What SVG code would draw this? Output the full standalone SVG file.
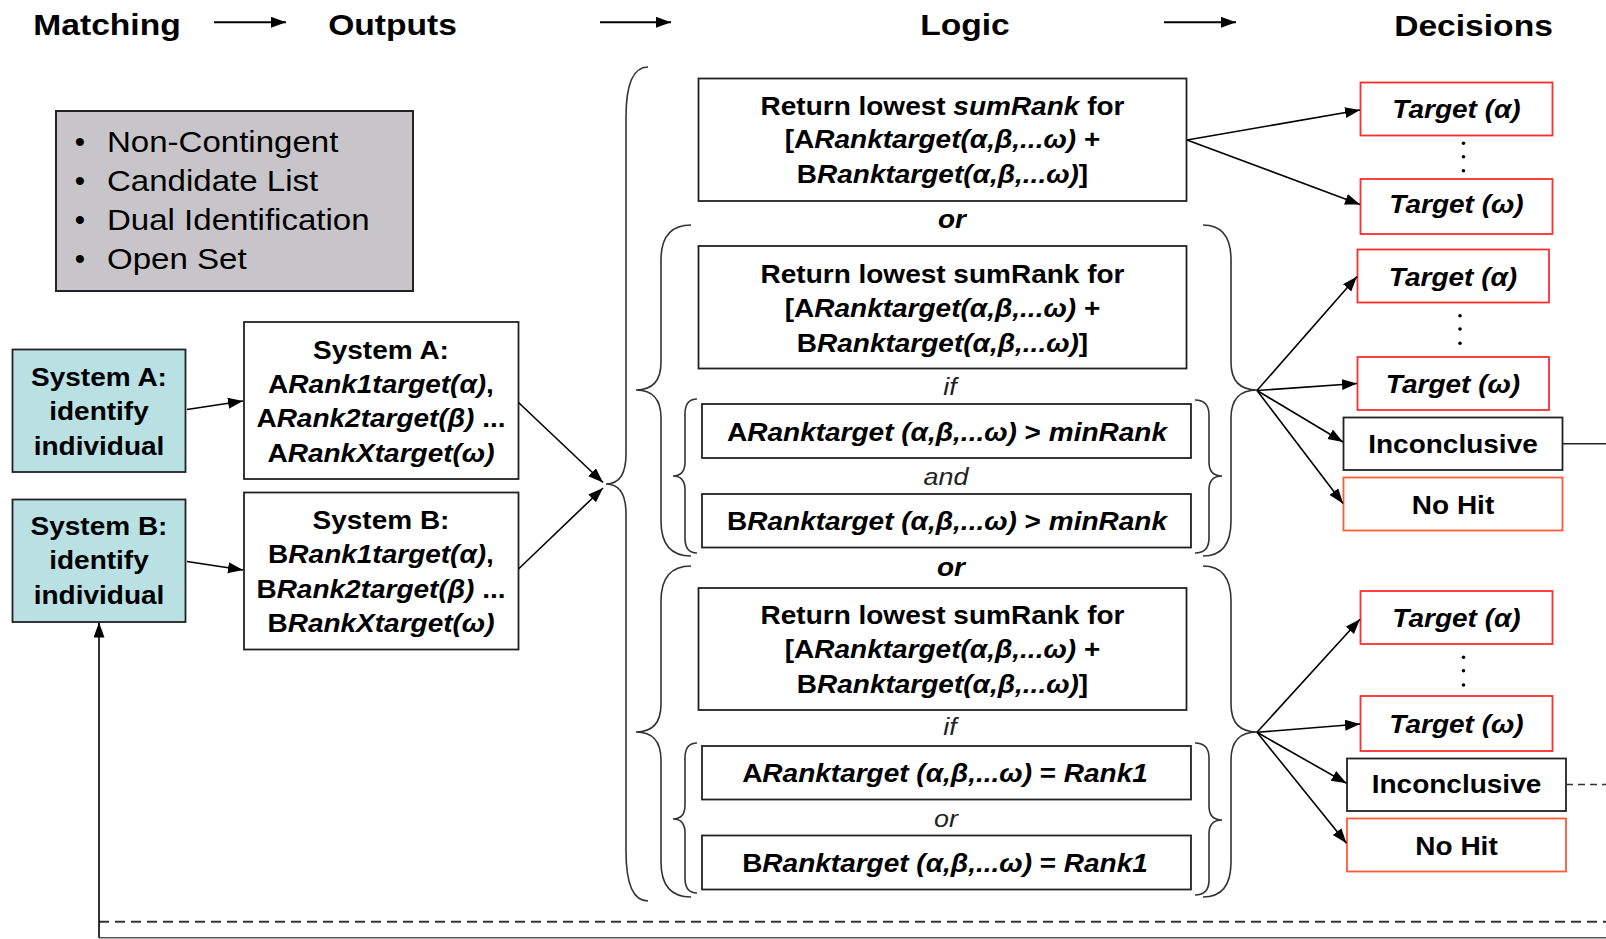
<svg xmlns="http://www.w3.org/2000/svg" width="1606" height="939" viewBox="0 0 1606 939">
<defs>
<marker id="ah" markerUnits="userSpaceOnUse" markerWidth="16" markerHeight="12" refX="15" refY="5.5" orient="auto"><path d="M0,0 L15,5.5 L0,11 Z" fill="#000"/></marker>
<style>
text{font-family:"Liberation Sans",Arial,Helvetica,sans-serif;fill:#000}
.hd{font-size:30px;font-weight:bold;text-anchor:middle}
.b{font-size:25px;font-weight:bold;text-anchor:middle}
.i{font-style:italic}
.li{font-size:29.5px}
.bu{font-size:29.5px;text-anchor:middle}
.lt{font-size:24px;font-style:italic;text-anchor:middle;fill:#222}
.box{fill:#fff;stroke:#222;stroke-width:1.8}
.red{fill:#fff;stroke:#ff2d2d;stroke-width:1.8}
.org{fill:#fff;stroke:#ff5a36;stroke-width:1.8}
.cy{fill:#b9e1e4;stroke:#222;stroke-width:1.8}
.gr{fill:#c7c5c9;stroke:#222;stroke-width:2}
.br{fill:none;stroke:#333;stroke-width:1.6}
.ln{fill:none;stroke:#000;stroke-width:1.6}
.hl{fill:none;stroke:#000;stroke-width:2}
</style>
</defs>
<rect width="1606" height="939" fill="#fff"/>

<g id="headers">
<g transform="translate(107 0) scale(1.12 1)"><text class="hd" y="35.5">Matching</text></g>
<g transform="translate(392.5 0) scale(1.12 1)"><text class="hd" y="35.5">Outputs</text></g>
<g transform="translate(965 0) scale(1.12 1)"><text class="hd" y="35.5">Logic</text></g>
<g transform="translate(1473.5 0) scale(1.12 1)"><text class="hd" y="36">Decisions</text></g>
</g>

<g id="legend">
<rect class="gr" x="56" y="111" width="357" height="180"/>
<text class="bu" x="80" y="151.7">•</text>
<text class="bu" x="80" y="190.7">•</text>
<text class="bu" x="80" y="230">•</text>
<text class="bu" x="80" y="269.3">•</text>
<g transform="translate(107 0) scale(1.12 1)">
<text class="li" y="151.7">Non-Contingent</text>
<text class="li" y="190.7">Candidate List</text>
<text class="li" y="230">Dual Identification</text>
<text class="li" y="269.3">Open Set</text>
</g>
</g>

<g id="identA">
<rect class="cy" x="12.5" y="349.5" width="173" height="122.5"/>
<g transform="translate(99 0) scale(1.12 1)">
<text class="b" y="386">System A:</text>
<text class="b" y="420">identify</text>
<text class="b" y="455">individual</text>
</g>
</g>
<g id="identB">
<rect class="cy" x="12.5" y="499.5" width="173" height="122.5"/>
<g transform="translate(99 0) scale(1.12 1)">
<text class="b" y="535.5">System B:</text>
<text class="b" y="569.5">identify</text>
<text class="b" y="604">individual</text>
</g>
</g>

<g id="outA">
<rect class="box" x="244" y="322" width="274.5" height="157"/>
<g transform="translate(381 0) scale(1.12 1)">
<text class="b" y="359">System A:</text>
<text class="b" y="392.7">A<tspan class="i">Rank1target(α)</tspan>,</text>
<text class="b" y="427.3">A<tspan class="i">Rank2target(β)</tspan> ...</text>
<text class="b" y="461.7">A<tspan class="i">RankXtarget(ω)</tspan></text>
</g>
</g>
<g id="outB">
<rect class="box" x="244" y="492.5" width="274.5" height="157"/>
<g transform="translate(381 0) scale(1.12 1)">
<text class="b" y="529.3">System B:</text>
<text class="b" y="563.3">B<tspan class="i">Rank1target(α)</tspan>,</text>
<text class="b" y="597.7">B<tspan class="i">Rank2target(β)</tspan> ...</text>
<text class="b" y="631.7">B<tspan class="i">RankXtarget(ω)</tspan></text>
</g>
</g>

<g id="braces">
<path class="br" d="M648,67 Q626,67 626,117 L626,454 Q626,484 606,484 Q626,484 626,514 L626,851 Q626,901 648,901"/>
<path class="br" d="M691,225 Q661,225 661,260 L661,362 Q661,390 636,390 Q661,390 661,418 L661,521 Q661,556 691,556"/>
<path class="br" d="M1203,225 Q1231,225 1231,260 L1231,362 Q1231,390 1257,390 Q1231,390 1231,418 L1231,521 Q1231,556 1203,556"/>
<path class="br" d="M697,399 Q685,399 685,414 L685,462 Q685,476 673,476 Q685,476 685,490 L685,538 Q685,553 697,553"/>
<path class="br" d="M1195,400 Q1209,400 1209,415 L1209,462 Q1209,476 1222,476 Q1209,476 1209,490 L1209,538 Q1209,553 1195,553"/>
<path class="br" d="M691,566 Q661,566 661,601 L661,704 Q661,732 636,732 Q661,732 661,760 L661,862 Q661,897 691,897"/>
<path class="br" d="M1203,566 Q1231,566 1231,601 L1231,704 Q1231,732 1257,732 Q1231,732 1231,760 L1231,862 Q1231,897 1203,897"/>
<path class="br" d="M697,743 Q685,743 685,758 L685,805 Q685,819 673,819 Q685,819 685,833 L685,878 Q685,893 697,893"/>
<path class="br" d="M1195,743 Q1209,743 1209,758 L1209,806 Q1209,820 1222,820 Q1209,820 1209,834 L1209,880 Q1209,895 1195,895"/>
</g>

<g id="logic1">
<rect class="box" x="698.5" y="78.5" width="488" height="122.5"/>
<g transform="translate(942.5 0) scale(1.12 1)">
<text class="b" y="115">Return lowest <tspan class="i">sumRank</tspan> for</text>
<text class="b" y="148.5">[A<tspan class="i">Ranktarget(α,β,...ω)</tspan> +</text>
<text class="b" y="183.5">B<tspan class="i">Ranktarget(α,β,...ω)</tspan>]</text>
</g>
</g>
<g id="or1"><g transform="translate(952 0) scale(1.12 1)"><text class="b i" y="228">or</text></g></g>

<g id="logic2">
<rect class="box" x="698.5" y="246" width="488" height="122.5"/>
<g transform="translate(942.5 0) scale(1.12 1)">
<text class="b" y="282.7">Return lowest sumRank for</text>
<text class="b" y="316.7">[A<tspan class="i">Ranktarget(α,β,...ω)</tspan> +</text>
<text class="b" y="351.7">B<tspan class="i">Ranktarget(α,β,...ω)</tspan>]</text>
</g>
</g>
<g id="if1"><g transform="translate(950 0) scale(1.12 1)"><text class="lt" y="395">if</text></g></g>
<g id="condA1">
<rect class="box" x="702" y="404" width="489" height="54"/>
<g transform="translate(947 0) scale(1.12 1)"><text class="b" y="441">A<tspan class="i">Ranktarget (α,β,...ω)</tspan> &gt; <tspan class="i">minRank</tspan></text></g>
</g>
<g id="and1"><g transform="translate(946 0) scale(1.12 1)"><text class="lt" y="485">and</text></g></g>
<g id="condB1">
<rect class="box" x="702" y="494" width="489" height="53.5"/>
<g transform="translate(947 0) scale(1.12 1)"><text class="b" y="530">B<tspan class="i">Ranktarget (α,β,...ω)</tspan> &gt; <tspan class="i">minRank</tspan></text></g>
</g>
<g id="or2"><g transform="translate(951 0) scale(1.12 1)"><text class="b i" y="576">or</text></g></g>

<g id="logic3">
<rect class="box" x="698.5" y="588" width="488" height="122"/>
<g transform="translate(942.5 0) scale(1.12 1)">
<text class="b" y="624">Return lowest sumRank for</text>
<text class="b" y="658.3">[A<tspan class="i">Ranktarget(α,β,...ω)</tspan> +</text>
<text class="b" y="692.7">B<tspan class="i">Ranktarget(α,β,...ω)</tspan>]</text>
</g>
</g>
<g id="if2"><g transform="translate(950 0) scale(1.12 1)"><text class="lt" y="735">if</text></g></g>
<g id="condA2">
<rect class="box" x="702" y="746" width="489" height="53.5"/>
<g transform="translate(945 0) scale(1.12 1)"><text class="b" y="781.7">A<tspan class="i">Ranktarget (α,β,...ω)</tspan> = <tspan class="i">Rank1</tspan></text></g>
</g>
<g id="or3"><g transform="translate(946 0) scale(1.12 1)"><text class="lt" y="826.7">or</text></g></g>
<g id="condB2">
<rect class="box" x="702" y="835.5" width="489" height="54"/>
<g transform="translate(945 0) scale(1.12 1)"><text class="b" y="871.7">B<tspan class="i">Ranktarget (α,β,...ω)</tspan> = <tspan class="i">Rank1</tspan></text></g>
</g>

<g id="d1a"><rect class="red" x="1360.5" y="82.5" width="192" height="53"/>
<g transform="translate(1456.5 0) scale(1.12 1)"><text class="b i" y="118.5">Target (α)</text></g></g>
<g id="dots1" fill="#000"><circle cx="1463.5" cy="143.3" r="1.8"/><circle cx="1463.5" cy="156.7" r="1.8"/><circle cx="1463.5" cy="170.7" r="1.8"/></g>
<g id="d1w"><rect class="red" x="1360.5" y="179" width="192" height="55"/>
<g transform="translate(1456.5 0) scale(1.12 1)"><text class="b i" y="213.5">Target (ω)</text></g></g>

<g id="d2a"><rect class="red" x="1357.5" y="249.5" width="191.5" height="53"/>
<g transform="translate(1453 0) scale(1.12 1)"><text class="b i" y="286">Target (α)</text></g></g>
<g id="dots2" fill="#000"><circle cx="1460" cy="315.7" r="1.8"/><circle cx="1460" cy="329" r="1.8"/><circle cx="1460" cy="343.3" r="1.8"/></g>
<g id="d2w"><rect class="red" x="1357.5" y="357" width="191.5" height="53"/>
<g transform="translate(1453 0) scale(1.12 1)"><text class="b i" y="393.5">Target (ω)</text></g></g>
<g id="d2i"><rect class="box" x="1343.5" y="417.5" width="219" height="52.5"/>
<g transform="translate(1453 0) scale(1.12 1)"><text class="b" y="452.7">Inconclusive</text></g></g>
<g id="d2n"><rect class="org" x="1343.5" y="477.5" width="219" height="53"/>
<g transform="translate(1453 0) scale(1.12 1)"><text class="b" y="514">No Hit</text></g></g>

<g id="d3a"><rect class="red" x="1360.5" y="591" width="192" height="53"/>
<g transform="translate(1456.5 0) scale(1.12 1)"><text class="b i" y="627.3">Target (α)</text></g></g>
<g id="dots3" fill="#000"><circle cx="1463.5" cy="657.3" r="1.8"/><circle cx="1463.5" cy="670.7" r="1.8"/><circle cx="1463.5" cy="685" r="1.8"/></g>
<g id="d3w"><rect class="red" x="1360.5" y="696" width="192" height="55"/>
<g transform="translate(1456.5 0) scale(1.12 1)"><text class="b i" y="733.3">Target (ω)</text></g></g>
<g id="d3i"><rect class="box" x="1347" y="758.5" width="219" height="52.5"/>
<g transform="translate(1456.5 0) scale(1.12 1)"><text class="b" y="793.3">Inconclusive</text></g></g>
<g id="d3n"><rect class="org" x="1347" y="818.5" width="219" height="53"/>
<g transform="translate(1456.5 0) scale(1.12 1)"><text class="b" y="855">No Hit</text></g></g>

<g id="connectors">
<line class="hl" x1="214" y1="22.3" x2="286" y2="22.3" marker-end="url(#ah)"/>
<line class="hl" x1="600" y1="22.3" x2="671" y2="22.3" marker-end="url(#ah)"/>
<line class="hl" x1="1164" y1="22.3" x2="1236" y2="22.3" marker-end="url(#ah)"/>
<line class="ln" x1="187" y1="409.5" x2="243" y2="401" marker-end="url(#ah)"/>
<line class="ln" x1="187" y1="561.5" x2="243" y2="570" marker-end="url(#ah)"/>
<line class="ln" x1="518.5" y1="402.5" x2="603" y2="482.5" marker-end="url(#ah)"/>
<line class="ln" x1="518.5" y1="569" x2="603" y2="488" marker-end="url(#ah)"/>
<line class="ln" x1="1187" y1="140" x2="1360" y2="110" marker-end="url(#ah)"/>
<line class="ln" x1="1187" y1="140" x2="1360" y2="204.5" marker-end="url(#ah)"/>
<line class="ln" x1="1257" y1="390.5" x2="1357" y2="276.5" marker-end="url(#ah)"/>
<line class="ln" x1="1257" y1="390.5" x2="1357" y2="383.5" marker-end="url(#ah)"/>
<line class="ln" x1="1257" y1="390.5" x2="1343" y2="442" marker-end="url(#ah)"/>
<line class="ln" x1="1257" y1="390.5" x2="1343" y2="503.5" marker-end="url(#ah)"/>
<line class="ln" x1="1257" y1="732.3" x2="1360" y2="619.3" marker-end="url(#ah)"/>
<line class="ln" x1="1257" y1="732.3" x2="1360" y2="724" marker-end="url(#ah)"/>
<line class="ln" x1="1257" y1="732.3" x2="1346.5" y2="783.3" marker-end="url(#ah)"/>
<line class="ln" x1="1257" y1="732.3" x2="1346.5" y2="843.3" marker-end="url(#ah)"/>
<line x1="1562.5" y1="443.7" x2="1606" y2="443.7" stroke="#222" stroke-width="1.6"/>
<line x1="1566" y1="784.5" x2="1606" y2="784.5" stroke="#333" stroke-width="1.6" stroke-dasharray="7 5"/>
<line x1="99" y1="921.7" x2="1606" y2="921.7" stroke="#333" stroke-width="2" stroke-dasharray="10 6"/>
<line x1="99" y1="937.7" x2="1606" y2="937.7" stroke="#555" stroke-width="1.5"/>
<line class="ln" x1="99" y1="937.7" x2="99" y2="622.5" marker-end="url(#ah)"/>
</g>
</svg>
